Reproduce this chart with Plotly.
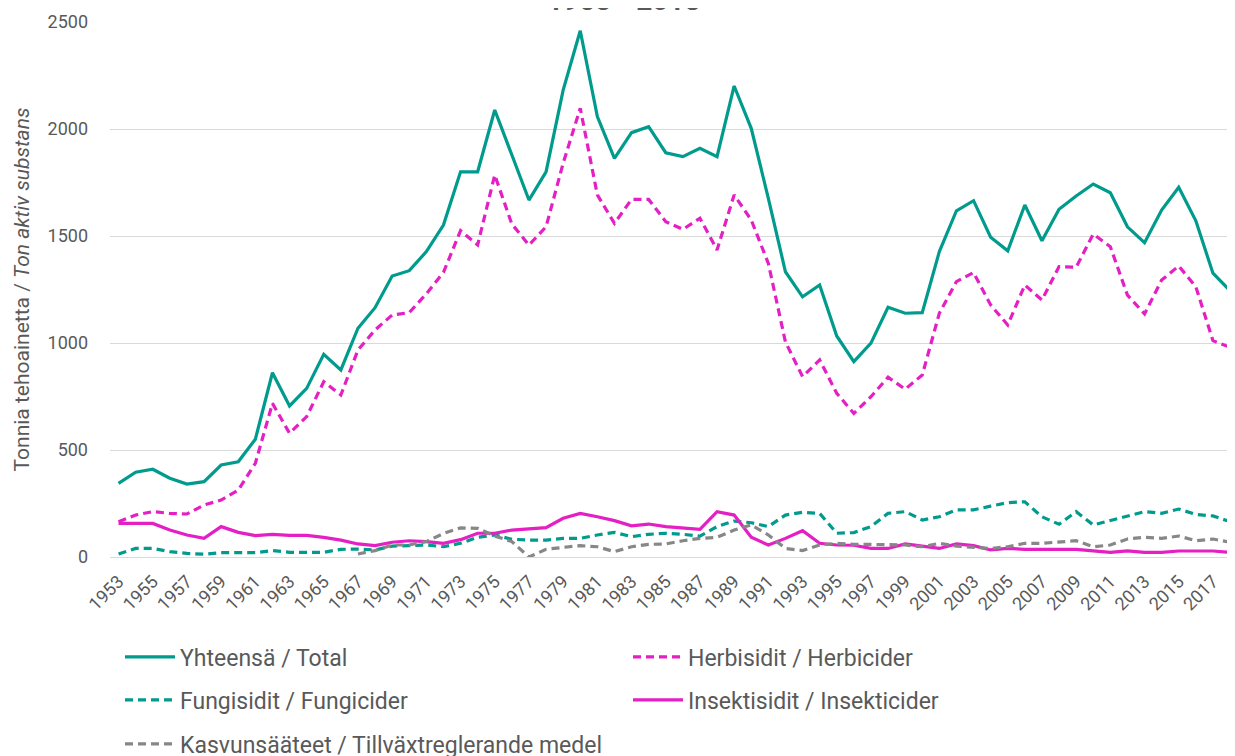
import plotly.graph_objects as go

years = list(range(1953, 2019))

total = [344, 396, 410, 368, 341, 352, 430, 445, 550, 861, 706, 788, 947, 874, 1069, 1165,
         1313, 1338, 1427, 1551, 1800, 1800, 2089, 1879, 1668, 1800, 2182, 2459, 2058, 1863,
         1983, 2011, 1889, 1871, 1910, 1871, 2201, 2003, 1676, 1333, 1216, 1271, 1033, 913,
         999, 1167, 1139, 1142, 1427, 1618, 1665, 1494, 1431, 1645, 1478, 1625, 1687, 1743,
         1702, 1543, 1469, 1621, 1728, 1571, 1326, 1244]

herb = [165, 196, 212, 204, 201, 243, 266, 313, 438, 718, 578, 656, 819, 757, 967, 1061,
        1131, 1142, 1230, 1330, 1525, 1458, 1785, 1556, 1458, 1543, 1840, 2097, 1692, 1559,
        1671, 1671, 1567, 1531, 1583, 1435, 1692, 1575, 1372, 1005, 843, 921, 765, 671,
        749, 840, 784, 850, 1139, 1287, 1329, 1178, 1084, 1271, 1201, 1357, 1354, 1509,
        1450, 1224, 1136, 1294, 1360, 1263, 1011, 980]

fung = [14, 40, 40, 25, 17, 13, 20, 20, 20, 30, 22, 22, 22, 36, 37, 33,
        51, 53, 56, 48, 64, 92, 103, 83, 79, 79, 87, 87, 103, 115,
        95, 106, 111, 106, 98, 142, 168, 160, 142, 196, 209, 204, 111, 114,
        142, 204, 212, 173, 188, 220, 220, 238, 254, 258, 188, 153, 212, 150,
        170, 192, 212, 204, 224, 199, 192, 165]

insect = [157, 157, 157, 126, 103, 87, 142, 115, 100, 106, 101, 101, 92, 79, 61, 53,
          69, 76, 72, 64, 81, 111, 111, 126, 131, 137, 181, 204, 188, 170,
          146, 154, 142, 134, 129, 212, 196, 92, 56, 87, 123, 64, 56, 55,
          40, 40, 61, 51, 40, 61, 53, 33, 40, 36, 36, 36, 36, 29,
          22, 29, 22, 22, 28, 28, 28, 22]

growth = [None] * 14 + [14, 30,
          56, 56, 72, 110, 136, 134, 98, 72, 0, 36, 45, 53, 48, 25,
          48, 59, 61, 76, 87, 92, 126, 150, 103, 40, 30, 56, 64, 59,
          59, 59, 56, 48, 64, 51, 45, 40, 48, 64, 64, 69, 76, 48,
          56, 84, 92, 87, 98, 76, 84, 69]

names = ["Yhteensä / Total", "Herbisidit / Herbicider", "Fungisidit / Fungicider",
         "Insektisidit / Insekticider", "Kasvunsääteet / Tillväxtreglerande medel"]

TEAL = "#009B8D"
MAG = "#E41FC4"
GREY = "#878787"
TXT = "#595959"
FONT = "Roboto, sans-serif"

series = [
    (total, names[0], TEAL, "solid", "legend"),
    (herb, names[1], MAG, "8px,5px", "legend"),
    (fung, names[2], TEAL, "8px,5px", "legend2"),
    (insect, names[3], MAG, "solid", "legend2"),
    (growth, names[4], GREY, "8px,5px", "legend3"),
]

fig = go.Figure()
for vals, nm, col, dash, lg in series:
    fig.add_trace(go.Scatter(x=years, y=vals, name=nm, mode="lines",
                             line=dict(color=col, width=3.2, dash=dash),
                             legend=lg, connectgaps=False))

def P(px):
    return (557 - px) / 535.0

leg_common = dict(orientation="h", xanchor="left", yanchor="middle", x=10 / 1125.0,
                  entrywidth=443, entrywidthmode="pixels",
                  font=dict(family=FONT, size=23, color=TXT),
                  bgcolor="rgba(0,0,0,0)", itemwidth=50)

# the page body adds an 8px offset, so margins are set 8px smaller
fig.update_layout(
    width=1235, height=756,
    margin=dict(l=102, r=8, t=14, b=207, autoexpand=False),
    plot_bgcolor="white", paper_bgcolor="white",
    font=dict(family=FONT, color=TXT),
    legend=dict(y=P(657), **leg_common),
    legend2=dict(y=P(700), **leg_common),
    legend3=dict(y=P(744), **leg_common),
    xaxis=dict(range=[1952.5, 2018.29], tickmode="array",
               tickvals=years[::2], ticktext=[str(y) for y in years[::2]],
               tickangle=-45, tickfont=dict(size=18, color=TXT, family=FONT),
               showgrid=False, showline=True, linecolor="#D9D9D9", linewidth=1,
               ticks="", zeroline=False, automargin=False, ticklabelstandoff=6),
    yaxis=dict(range=[0, 2500], dtick=500, showgrid=True, gridcolor="#D9D9D9",
               gridwidth=1, zeroline=False, showline=False, ticks="",
               tickfont=dict(size=18, color=TXT, family=FONT), automargin=False,
               ticklabelstandoff=21,
               title=dict(text="Tonnia tehoainetta / <i>Ton aktiv substans</i>",
                          font=dict(size=21, color=TXT, family=FONT), standoff=12)),
    annotations=[dict(text="<b>1953 - 2018</b>", xref="paper", yref="paper",
                      x=(623 - 110) / 1125.0, y=P(19), xanchor="center", yanchor="bottom",
                      showarrow=False, font=dict(size=28, color=TXT, family=FONT))],
)

fig.write_html("out.html")
